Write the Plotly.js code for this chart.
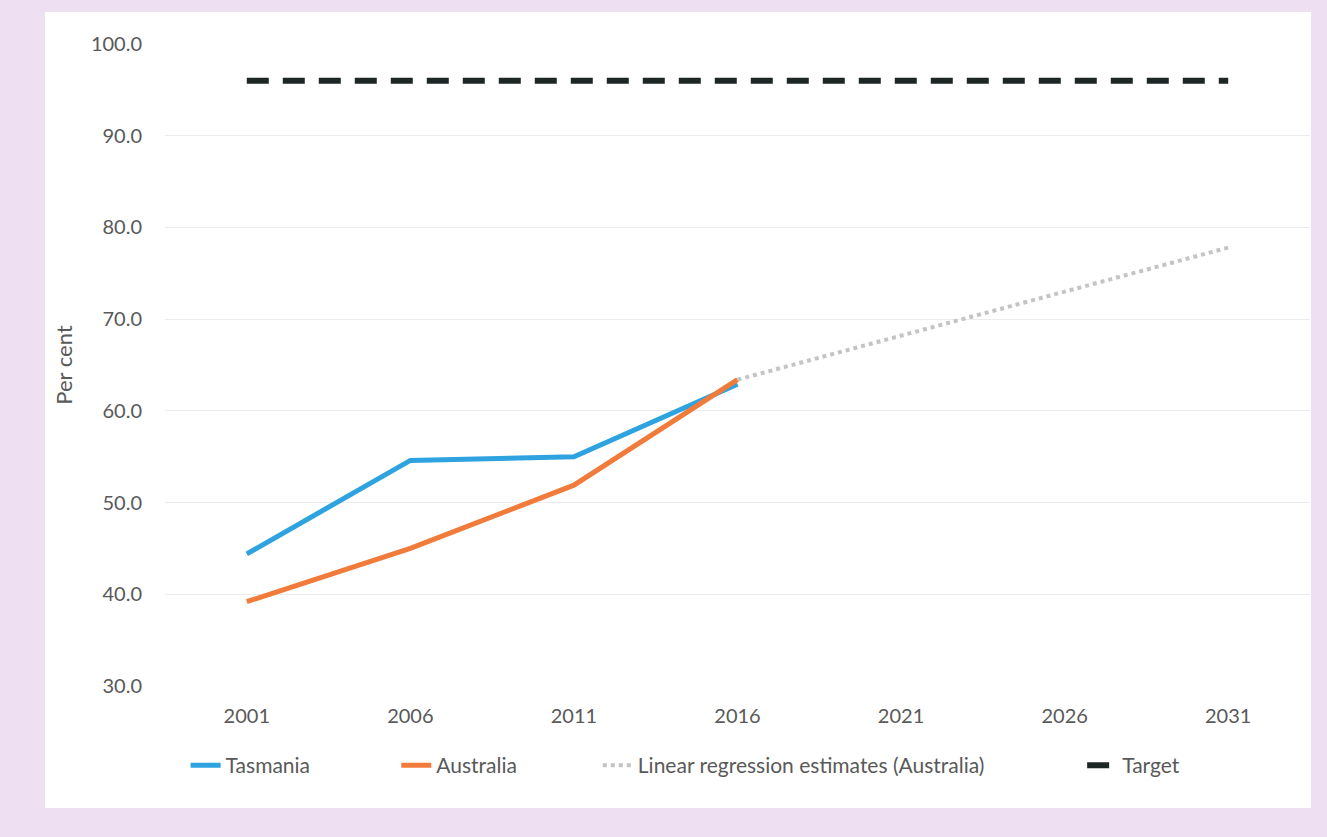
<!DOCTYPE html>
<html><head><meta charset="utf-8">
<script src="https://cdn.plot.ly/plotly-3.0.1.min.js"></script>
<style>
html,body{margin:0;padding:0;background:#eedff2;width:1327px;height:837px;overflow:hidden;}
#panel{position:absolute;left:45px;top:12px;width:1266px;height:796px;background:#fff;}
#chart{position:absolute;left:0;top:0;width:1327px;height:837px;}
</style></head>
<body><div id="panel"></div><div id="chart"></div>
<script>
const years = ['2001','2006','2011','2016','2021','2026','2031'];
const tasmania = [44.4, 54.6, 55.0, 62.9];
const australia = [39.2, 45.0, 51.9, 63.4];
const regressionYears = ['2016','2021','2026','2031'];
const regression = [63.4, 68.2, 73.0, 77.8];
const target = [96, 96, 96, 96, 96, 96, 96];
const yTicks = [30,40,50,60,70,80,90,100];

const fam = 'Lato, "Open Sans", sans-serif';
const font = {family:fam, size:20, color:'#595959'};
const legFont = {family:fam, size:21, color:'#595959'};
const traces = [
 {x:years.slice(0,4), y:tasmania, name:'Tasmania', mode:'lines', line:{color:'#2ea3df', width:5}, legend:'legend'},
 {x:years.slice(0,4), y:australia, name:'Australia', mode:'lines', line:{color:'#f07b3a', width:5}, legend:'legend2'},
 {x:regressionYears, y:regression, name:'Linear regression estimates (Australia)', mode:'lines', line:{color:'#c4c4c4', width:4, dash:'dot'}, legend:'legend3'},
 {x:years, y:target, name:'Target', mode:'lines', line:{color:'#1e2626', width:6, dash:'22px,14px'}, legend:'legend4'}
];
function leg(x){return {orientation:'h', x:x, xanchor:'left', y:-0.092, yanchor:'top', font:legFont, bgcolor:'rgba(0,0,0,0)'};}
const layout = {
 width:1327, height:837,
 paper_bgcolor:'rgba(0,0,0,0)', plot_bgcolor:'rgba(0,0,0,0)',
 margin:{l:165, r:17, t:44, b:151},
 font:font,
 xaxis:{type:'category', categoryorder:'array', categoryarray:years, range:[-0.5,6.5],
   showgrid:false, zeroline:false, showline:false, ticks:'', tickfont:font, ticklabelstandoff:16},
 yaxis:{range:[30,100], tickvals:yTicks, ticktext:yTicks.map(v=>v.toFixed(1)),
   showgrid:true, gridcolor:'#ececec', gridwidth:1, zeroline:false, showline:false, ticks:'',
   tickfont:font, ticklabelstandoff:22,
   title:{text:'Per cent', font:{family:fam, size:22, color:'#595959'}, standoff:12}},
 legend:leg(0.018),
 legend2:leg(0.202),
 legend3:leg(0.378),
 legend4:leg(0.801),
 showlegend:true
};
Plotly.newPlot('chart', traces, layout, {displayModeBar:false, staticPlot:true});
</script></body></html>
